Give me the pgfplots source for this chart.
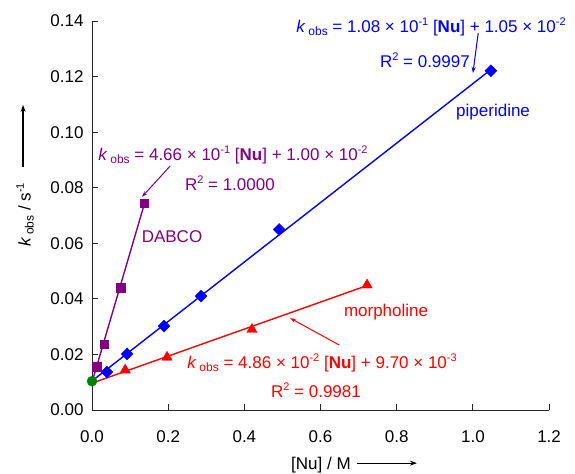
\documentclass[border=0pt]{standalone}
\usepackage{fontspec}
\setmainfont{Liberation Sans}
\usepackage{pgfplots}
\pgfplotsset{compat=1.18}
\usetikzlibrary{arrows.meta}

\definecolor{pblue}{RGB}{0,0,255}
\definecolor{ppurple}{RGB}{128,0,128}
\definecolor{pred}{RGB}{255,0,0}
\definecolor{pgreen}{RGB}{0,128,0}

\newcommand{\kobs}{\textit{k}\,\raisebox{-0.35ex}{\fontsize{12}{12}\selectfont obs}}
\newcommand{\sups}[1]{\raisebox{0.75ex}{\fontsize{11}{11}\selectfont #1}}
\newcommand{\bigf}{\fontsize{17}{20}\selectfont}

\begin{document}
\begin{tikzpicture}
\begin{axis}[
  scale only axis, width=457pt, height=389pt,
  xmin=0, xmax=1.2, ymin=0, ymax=0.14,
  axis x line*=bottom, axis y line*=left,
  tick align=inside, major tick length=6pt,
  xtick={0,0.2,0.4,0.6,0.8,1.0,1.2},
  ytick={0,0.02,0.04,0.06,0.08,0.10,0.12,0.14},
  scaled x ticks=false, scaled y ticks=false,
  /pgf/number format/assume math mode=true,
  xticklabel style={yshift=-17pt, /pgf/number format/.cd, fixed, fixed zerofill, precision=1},
  yticklabel style={xshift=-5pt, /pgf/number format/.cd, fixed, fixed zerofill, precision=2},
  tick label style={font=\bigf},
  axis line style={line width=1pt, black!85},
  every tick/.style={line width=1pt, black!85},
  clip=false,
]
% fitted lines
\addplot[pblue, line width=1.4pt, no marks] coordinates {(0,0.0105) (1.047,0.1225)};
\addplot[ppurple, line width=1.4pt, no marks] coordinates {(0,0.0100) (0.137,0.0740)};
\addplot[pred, line width=1.4pt, no marks] coordinates {(0,0.0097) (0.722,0.0448)};
% data
\addplot[only marks, mark=square*, mark size=4.2pt, mark options={rotate=45, fill=pblue, draw=pblue}]
  coordinates {(0.039,0.0137) (0.092,0.0202) (0.189,0.0302) (0.286,0.0410) (0.491,0.0650) (1.047,0.1221)};
\addplot[only marks, mark=square*, mark size=4.3pt, mark options={fill=ppurple, draw=ppurple}]
  coordinates {(0.013,0.0155) (0.032,0.0237) (0.076,0.0440) (0.137,0.0745)};
\addplot[only marks, mark=triangle*, mark size=6pt, mark options={fill=pred, draw=pred}]
  coordinates {(0.087,0.0144) (0.197,0.0190) (0.420,0.0290) (0.722,0.0450)};
\addplot[only marks, mark=*, mark size=5pt, mark options={fill=pgreen, draw=pgreen}]
  coordinates {(0,0.0104)};

% annotations
\node[pblue, font=\bigf] at (axis cs:0.890,0.1378) {\kobs{} = 1.08 × 10\sups{-1} [\textbf{Nu}] + 1.05 × 10\sups{-2}};
\node[pblue, font=\bigf] at (axis cs:0.874,0.1260) {R\sups{2} = 0.9997};
\draw[pblue, line width=1pt, -{Stealth[length=6pt,width=4pt]}] (axis cs:1.014,0.1357) -- (axis cs:1.000,0.1213);
\node[pblue, font=\bigf] at (axis cs:1.053,0.1072) {piperidine};

\node[ppurple, font=\bigf] at (axis cs:0.370,0.0918) {\kobs{} = 4.66 × 10\sups{-1} [\textbf{Nu}] + 1.00 × 10\sups{-2}};
\node[ppurple, font=\bigf] at (axis cs:0.362,0.0817) {R\sups{2} = 1.0000};
\draw[ppurple, line width=1pt, -{Stealth[length=6pt,width=4pt]}] (axis cs:0.205,0.0878) -- (axis cs:0.131,0.0767);
\node[ppurple, font=\bigf] at (axis cs:0.210,0.0623) {DABCO};

\node[pred, font=\bigf] at (axis cs:0.604,0.0169) {\kobs{} = 4.86 × 10\sups{-2} [\textbf{Nu}] + 9.70 × 10\sups{-3}};
\node[pred, font=\bigf] at (axis cs:0.588,0.0072) {R\sups{2} = 0.9981};
\draw[pred, line width=1pt, -{Stealth[length=6pt,width=4pt]}] (axis cs:0.649,0.0234) -- (axis cs:0.520,0.0331);
\node[pred, font=\bigf] at (axis cs:0.772,0.0353) {morpholine};

% axis labels
\node[rotate=90, font=\bigf] at (axis cs:-0.176,0.0702) {\kobs{} / s\sups{-1}};
\draw[black, line width=1.2pt, -{Stealth[length=7pt,width=5pt]}] (axis cs:-0.181,0.0875) -- (axis cs:-0.181,0.1098);
\node[font=\bigf] at (axis cs:0.601,-0.0198) {[Nu] / M};
\draw[black, line width=1.2pt, -{Stealth[length=7pt,width=5pt]}] (axis cs:0.696,-0.0191) -- (axis cs:0.853,-0.0191);

\coordinate (bl) at (axis cs:-0.2416,-0.02267);
\coordinate (tr) at (axis cs:1.268,0.14756);
\end{axis}
\pgfresetboundingbox
\path[use as bounding box] (bl) rectangle (tr);
\end{tikzpicture}
\end{document}
